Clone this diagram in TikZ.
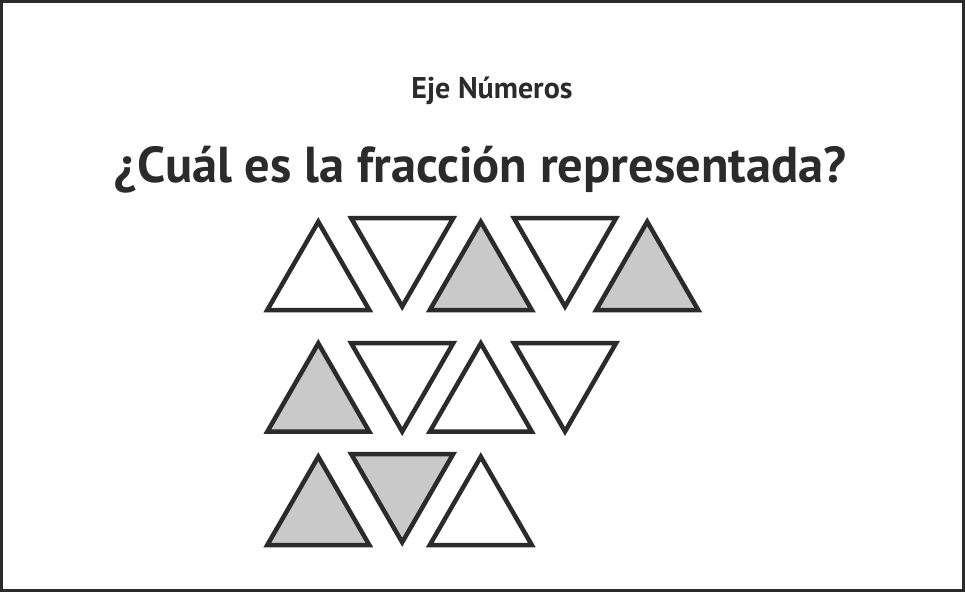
\documentclass[tikz,border=0pt]{standalone}
\usepackage{fontspec}
\setmainfont{PT Sans}
\definecolor{ink}{HTML}{2B2B2B}
\definecolor{shade}{HTML}{C8C9C8}
\tikzset{
  tri/.style={draw=ink, line width=4.5pt, line join=miter},
  trw/.style={tri, fill=white},
  trg/.style={tri, fill=shade},
  frame/.style={draw=ink, line width=3pt}
}
\newcommand{\uptri}[3]{\path[#1] (#2-51,#3) -- (#2+51,#3) -- (#2,#3-88.3) -- cycle;}
\newcommand{\dntri}[3]{\path[#1] (#2-51,#3) -- (#2+51,#3) -- (#2,#3+88.3) -- cycle;}
\begin{document}
\begin{tikzpicture}[x=1pt,y=-1pt]
\useasboundingbox (0,0) rectangle (965,592);
\draw[frame] (1.5,1.5) rectangle (963.5,590.5);
\node[anchor=base, text=ink, font=\bfseries\fontsize{30}{34}\selectfont, inner sep=0pt] (eje) at (492,98.5) {Eje Números};
\node[anchor=base, text=ink, font=\bfseries\fontsize{50.5}{58}\selectfont, inner sep=0pt] (q) at (480.5,182.3) {¿Cuál es la fracción representada?};
% row 1
\uptri{trw}{318.3}{310}
\dntri{trw}{402.2}{218.2}
\uptri{trg}{480.8}{310}
\dntri{trw}{565}{218.2}
\uptri{trg}{647.2}{310}
% row 2
\uptri{trg}{318.3}{431.7}
\dntri{trw}{402.2}{343.2}
\uptri{trw}{480.8}{431.7}
\dntri{trw}{565}{343.2}
% row 3
\uptri{trg}{318.3}{545}
\dntri{trg}{402.2}{454}
\uptri{trw}{480.8}{545}
\end{tikzpicture}
\end{document}
